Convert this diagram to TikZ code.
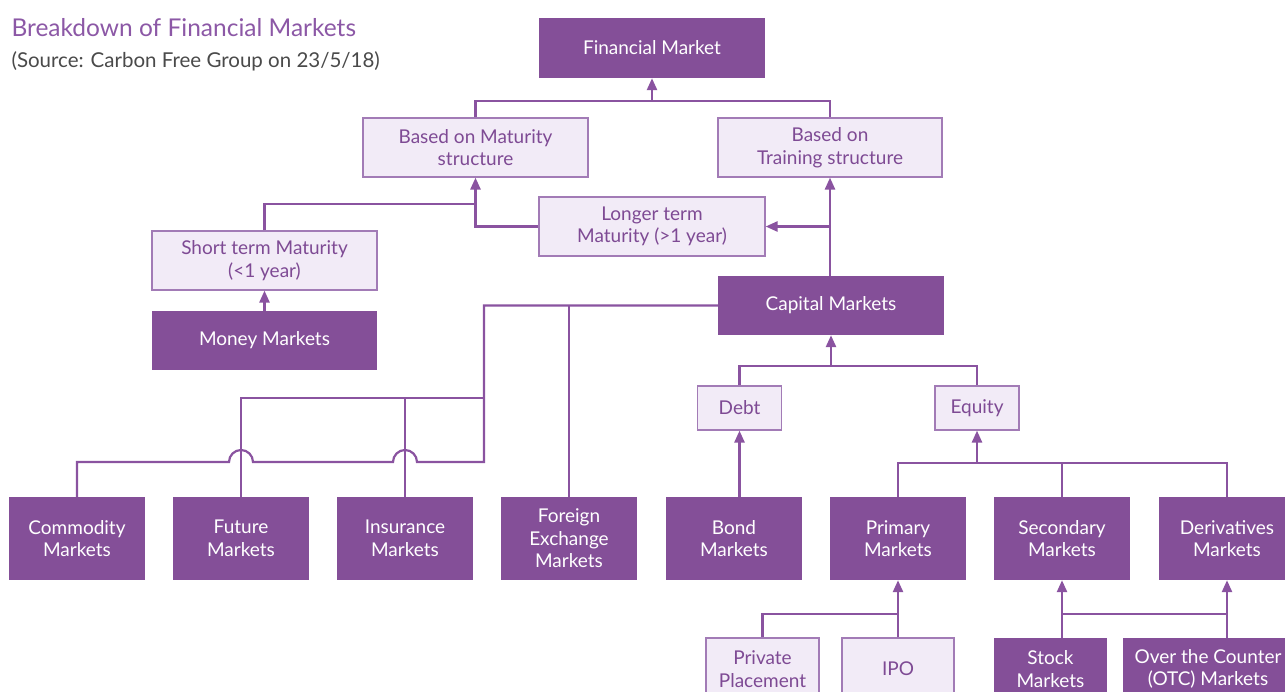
\documentclass[tikz,border=0pt]{standalone}
\usepackage{fontspec}
\setmainfont{Lato}
\usetikzlibrary{arrows.meta}
\definecolor{dk}{HTML}{844F98}
\definecolor{lt}{HTML}{F2EBF7}
\definecolor{ltb}{HTML}{A27BB6}
\definecolor{ltt}{HTML}{7E4A94}
\definecolor{ln}{HTML}{8A53A0}
\definecolor{ttl}{HTML}{8C58A6}
\definecolor{src}{HTML}{4A4A4A}
\tikzset{
  box/.style={rectangle, inner sep=0pt, align=center, font=\fontsize{19}{22.5}\selectfont},
  dark/.style={box, fill=dk, text=white},
  light/.style={box, fill=lt, draw=ltb, line width=1.2pt, text=ltt},
  conn/.style={draw=ln, line width=2.5pt},
  arr/.style={conn, -{Triangle[length=12pt,width=10pt]}},
}
\begin{document}
\begin{tikzpicture}[x=1pt,y=-1pt]
\clip (0,0) rectangle (1285,691);
\fill[white] (0,0) rectangle (1285,691);
\node[anchor=west, text=ttl, font=\fontsize{24.5}{28}\selectfont] (title) at (8,28) {Breakdown of Financial Markets};
\node[anchor=west, text=src, font=\fontsize{20.5}{24}\selectfont] (source) at (8,61) {(Source: Carbon Free Group on 23/5/18)};

\node[dark, minimum width=226, minimum height=60] (fm) at (652,48) {Financial Market};
\node[light, minimum width=225, minimum height=59] (mat) at (475.5,147.5) {Based on Maturity\\structure};
\node[light, minimum width=224, minimum height=59] (trn) at (830,147.5) {Based on\\Training structure};
\node[light, minimum width=226, minimum height=59] (lng) at (652,226.5) {Longer term\\Maturity (>1 year)};
\node[light, minimum width=225, minimum height=59] (sht) at (264.5,260.5) {Short term Maturity\\(<1 year)};
\node[dark, minimum width=225, minimum height=59] (mon) at (264.5,340.5) {Money Markets};
\node[dark, minimum width=226, minimum height=59] (cap) at (831,305.5) {Capital Markets};
\node[light, minimum width=84, minimum height=44] (debt) at (739.5,408) {Debt};
\node[light, minimum width=84, minimum height=44] (eq) at (977,408) {Equity};

\node[dark, minimum width=136, minimum height=83] (com) at (77,538.5) {Commodity\\Markets};
\node[dark, minimum width=136, minimum height=83] (fut) at (241,538.5) {Future\\Markets};
\node[dark, minimum width=136, minimum height=83] (ins) at (405,538.5) {Insurance\\Markets};
\node[dark, minimum width=136, minimum height=83] (fx) at (569,538.5) {Foreign\\Exchange\\Markets};
\node[dark, minimum width=136, minimum height=83] (bond) at (734,538.5) {Bond\\Markets};
\node[dark, minimum width=136, minimum height=83] (pri) at (898,538.5) {Primary\\Markets};
\node[dark, minimum width=136, minimum height=83] (sec) at (1062,538.5) {Secondary\\Markets};
\node[dark, minimum width=136, minimum height=83] (der) at (1227,538.5) {Derivatives\\Markets};

\node[light, minimum width=113, minimum height=62] (priv) at (762.5,669) {Private\\Placement};
\node[light, minimum width=112, minimum height=62] (ipo) at (898,669) {IPO};
\node[dark, minimum width=113, minimum height=62] (stock) at (1050.5,669) {Stock\\Markets};
\node[dark, minimum width=170, minimum height=62] (otc) at (1208,669) {Over the Counter\\(OTC) Markets};

% Financial market
\coordinate (j1) at (652,101);
\draw[conn] (mat.north) |- (j1) -| (trn.north);
\draw[arr] (j1) -- (fm.south);
% maturity
\coordinate (j3) at (475.5,204);
\draw[arr] (lng.west) -| (mat.south);
\draw[conn] (sht.north) |- (j3);
\draw[arr] (mon.north) -- (sht.south);
% training
\coordinate (j4) at (830,226.5);
\draw[arr] (cap.north -| trn.south) -- (trn.south);
\draw[arr] (j4) -- (lng.east);
% capital left side
\coordinate (c1) at (484,305.5);
\coordinate (c2) at (484,398);
\coordinate (c3) at (484,462);
\draw[conn, line width=2.2pt] (cap.west) -- (c1) -- (c3) -- (417,462) arc[start angle=0, end angle=180, radius=12pt] -- (253,462) arc[start angle=0, end angle=180, radius=12pt] -- (com.north |- c3) -- (com.north);
\draw[conn, line width=2.2pt] (c2) -| (fut.north);
\draw[conn, line width=2.2pt] (ins.north |- c2) -- (ins.north);
\draw[conn, line width=2.2pt] (fx.north |- c1) -- (fx.north);
% debt / equity
\coordinate (k) at (831,366);
\draw[conn] (debt.north) |- (k) -| (eq.north);
\draw[arr] (k) -- (cap.south);
\draw[arr] (debt.south |- bond.north) -- (debt.south);
\coordinate (e) at (977,463);
\draw[conn] (pri.north) |- (e) -| (der.north);
\draw[conn] (sec.north |- e) -- (sec.north);
\draw[arr] (e) -- (eq.south);
% primary
\coordinate (p) at (898,614);
\draw[conn] (priv.north) |- (p);
\draw[arr] (ipo.north) -- (pri.south);
% secondary / derivatives
\coordinate (s) at (1062,614);
\draw[arr] (sec.south |- stock.north) -- (sec.south);
\draw[arr] (der.south |- otc.north) -- (der.south);
\draw[conn] (s) -- (der.south |- s);
\end{tikzpicture}
\end{document}
